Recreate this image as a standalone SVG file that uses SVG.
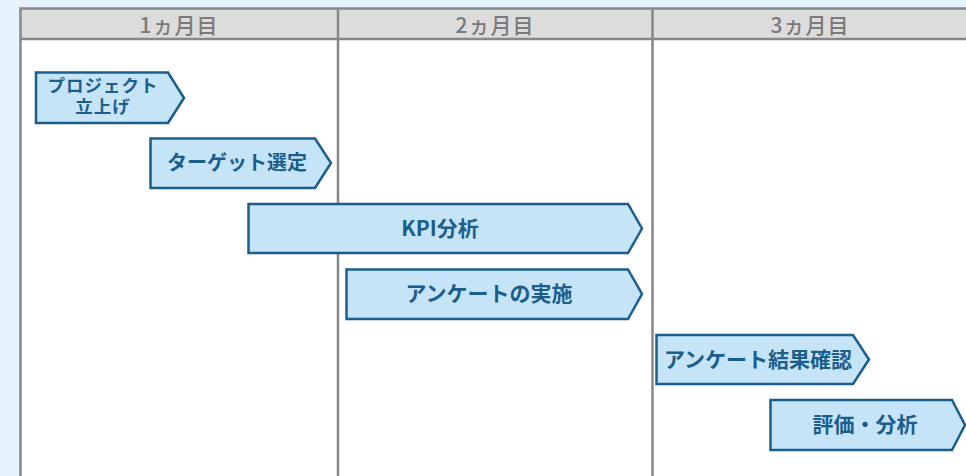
<svg xmlns="http://www.w3.org/2000/svg" width="966" height="476" viewBox="0 0 966 476">
<style>
.hdr{font-family:"Noto Sans CJK JP","Liberation Sans",sans-serif;font-size:21px;font-weight:500;fill:#7a7a7a;text-anchor:middle;letter-spacing:1px}
.grid{stroke:#878787;stroke-width:2.5;fill:none}
.bar{fill:#c5e4f8;stroke:#1b5d8b;stroke-width:2.5;stroke-linejoin:miter}
.lbl{font-family:"Noto Sans CJK JP","Liberation Sans",sans-serif;font-size:21px;font-weight:bold;fill:#1b5d8b;text-anchor:middle}
.two{font-family:"Liberation Sans","Noto Sans CJK JP",sans-serif;font-size:17.5px;letter-spacing:1px}
</style>
<rect x="0" y="0" width="966" height="476" fill="#e5f3fc"/>
<g id="table">
<rect x="20" y="8.5" width="960" height="480" fill="#ffffff"/>
<rect x="20" y="8.5" width="960" height="30.5" fill="#dcdcdc"/>
<rect class="grid" x="20.5" y="8.5" width="960" height="480"/>
<line class="grid" x1="20" y1="39" x2="980" y2="39"/>
<line class="grid" x1="338" y1="8.5" x2="338" y2="476"/>
<line class="grid" x1="652.5" y1="8.5" x2="652.5" y2="476"/>
<text class="hdr" x="179" y="33">1ヵ月目</text>
<text class="hdr" x="495" y="33">2ヵ月目</text>
<text class="hdr" x="810" y="33">3ヵ月目</text>
</g>
<g id="connectors"></g>
<g id="node-project">
<path class="bar" d="M36,72.5 H168 L184,98 L168,123 H36 Z"/>
<text class="lbl two" x="103" y="92">プロジェクト</text>
<text class="lbl two" x="103" y="113">立上げ</text>
</g>
<g id="node-target">
<path class="bar" d="M150.5,138.5 H315 L331,163 L315,188 H150.5 Z"/>
<text class="lbl" style="font-size:20px" x="237" y="170">ターゲット選定</text>
</g>
<g id="node-kpi">
<path class="bar" d="M248.5,204 H628 L642,228.5 L628,253 H248.5 Z"/>
<text class="lbl" x="440" y="236">KPI分析</text>
</g>
<g id="node-survey">
<path class="bar" d="M346.5,269.5 H628 L642,294 L628,319 H346.5 Z"/>
<text class="lbl" x="489" y="301">アンケートの実施</text>
</g>
<g id="node-result">
<path class="bar" d="M656.5,335 H853 L869,359.5 L853,384 H656.5 Z"/>
<text class="lbl" x="758" y="367">アンケート結果確認</text>
</g>
<g id="node-eval">
<path class="bar" d="M770.5,400 H952 L965,425 L952,450 H770.5 Z"/>
<text class="lbl" x="865" y="432">評価・分析</text>
</g>
</svg>
